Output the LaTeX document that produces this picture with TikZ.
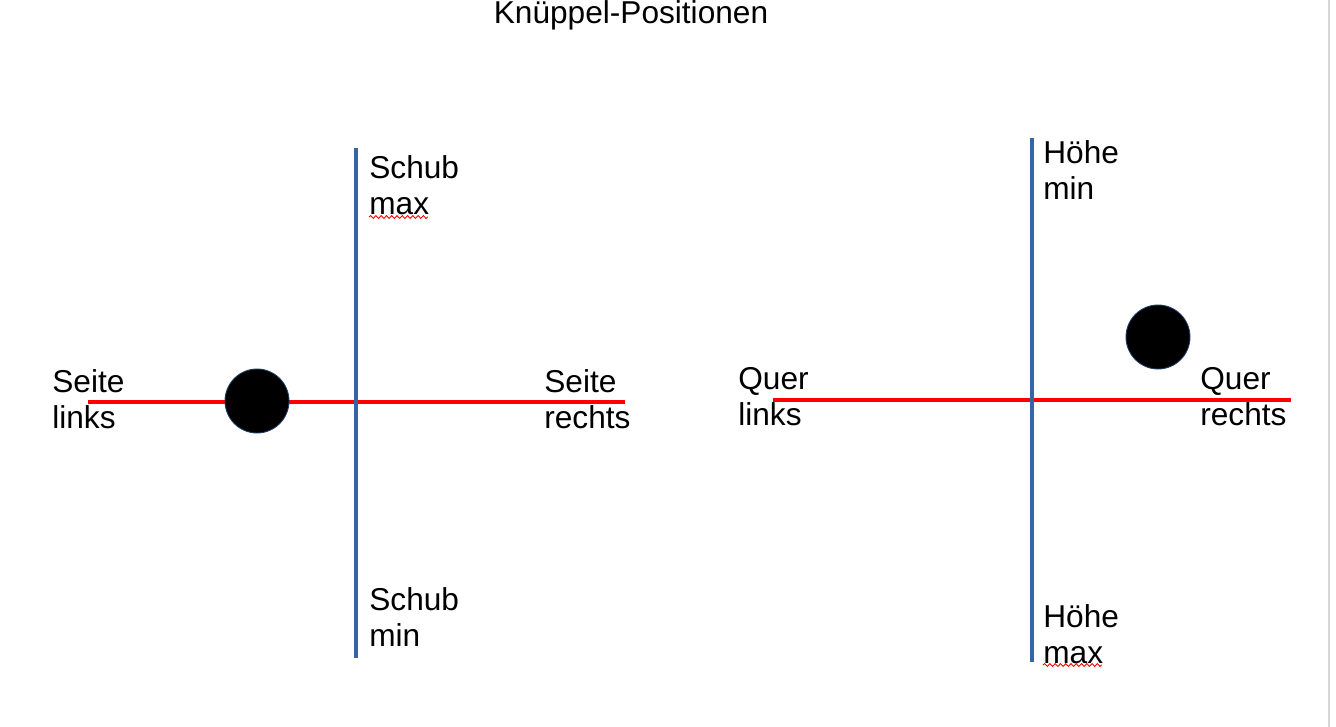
\documentclass[tikz,border=0pt]{standalone}
\usepackage{fontspec}
\setmainfont{Liberation Sans}
\usetikzlibrary{positioning, decorations.pathmorphing}
\definecolor{axisblue}{RGB}{52,101,164}
\definecolor{axisred}{RGB}{255,0,0}
\definecolor{knobedge}{RGB}{30,60,100}
\definecolor{edgegray}{RGB}{215,215,215}

\begin{document}
\begin{tikzpicture}[x=0.02cm, y=-0.02cm,
    lbl/.style={anchor=north west, inner sep=0pt, align=left, font=\fontsize{18}{20.5}\selectfont},
    redaxis/.style={draw=axisred, line width=2.8pt},
    blueaxis/.style={draw=axisblue, line width=2.8pt},
    knob/.style={circle, fill=black, draw=knobedge, line width=0.5pt, minimum size=1.28cm, inner sep=0pt},
    squiggle/.style={draw=red, line width=0.5pt, decorate, decoration={snake, amplitude=0.8pt, segment length=3pt}}
]
\useasboundingbox (0,0) rectangle (1336,727);

% page edge
\draw[edgegray, line width=1.2pt] (1329,0) -- (1329,727);

% Title
\node[anchor=base, inner sep=0pt, font=\fontsize{18}{20.5}\selectfont] (title) at (631,23) {Knüppel-Positionen};

% Left stick: Seite / Schub
\node[lbl] (schubmax) at (369,155) {Schub\\max};
\node[lbl] (schubmin) at (369,587) {Schub\\min};
\node[lbl] (seitel) at (52,369) {Seite\\links};
\node[lbl] (seiter) at (544,369) {Seite\\rechts};

\coordinate (sl) at (88,402);
\coordinate (sr) at (625,402);
\coordinate (st) at (356,148);
\coordinate (sb) at (356,658);
\draw[redaxis] (sl) -- (sr);
\draw[blueaxis] (st) -- (sb);
\node[knob] (knobL) at (257,401) {};

% Right stick: Quer / Hoehe
\node[lbl] (hoehemin) at (1043,140) {Höhe\\min};
\node[lbl] (hoehemax) at (1043,604) {Höhe\\max};
\node[lbl] (querl) at (738,367) {Quer\\links};
\node[lbl] (querr) at (1200,367) {Quer\\rechts};

\coordinate (ql) at (773,400);
\coordinate (qr) at (1291,400);
\coordinate (ht) at (1032,138);
\coordinate (hb) at (1032,662);
\draw[redaxis] (ql) -- (qr);
\draw[blueaxis] (ht) -- (hb);
\node[knob] (knobR) at (1158,337) {};

% spell-check marks
\draw[squiggle] (369,217) -- (428,217);
\draw[squiggle] (1043,665) -- (1102,665);

\end{tikzpicture}
\end{document}
